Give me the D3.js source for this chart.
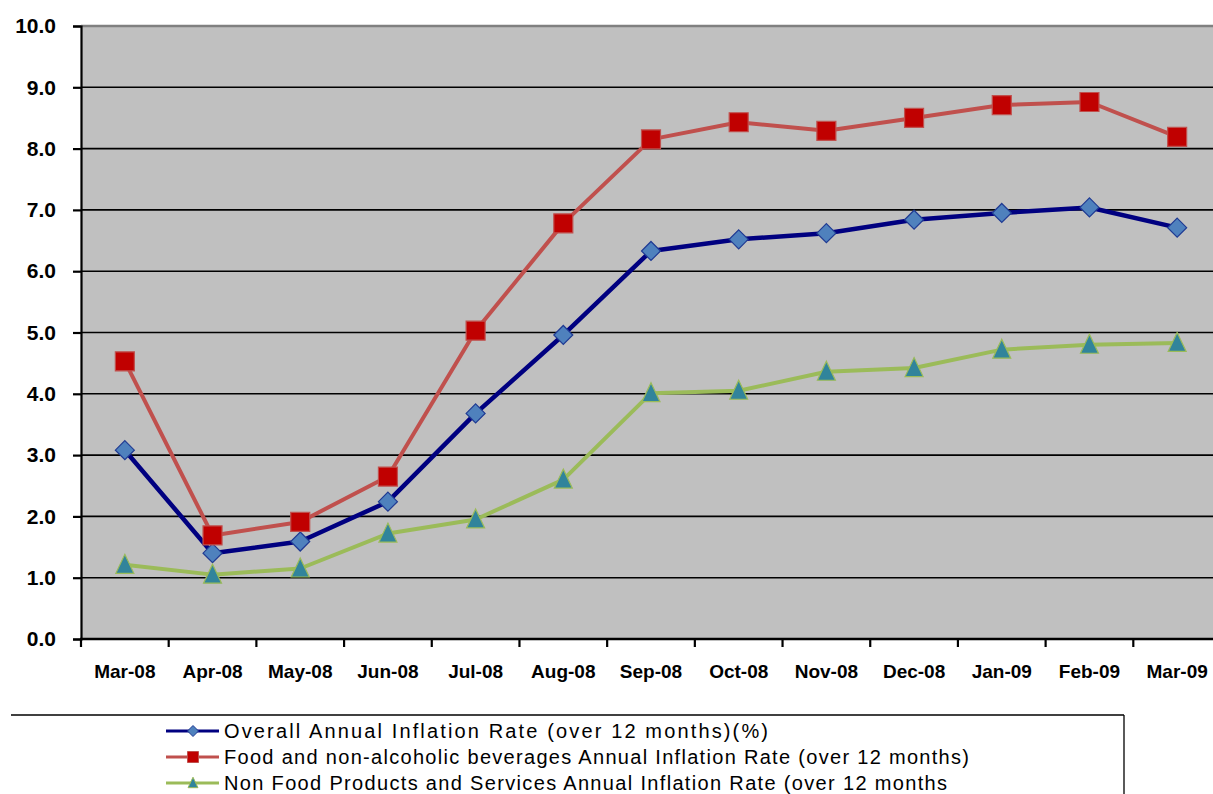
<!DOCTYPE html>
<html>
<head>
<meta charset="utf-8">
<script src="https://cdn.jsdelivr.net/npm/d3@7/dist/d3.min.js"></script>
<style>
  html, body { margin: 0; padding: 0; background: #fff; }
  svg { display: block; font-family: "Liberation Sans", Arial, sans-serif; }
</style>
</head>
<body>
<svg id="chart" width="1213" height="794"></svg>
<script>
// Monthly annual inflation rates, March 2008 to March 2009
const months = ["Mar-08", "Apr-08", "May-08", "Jun-08", "Jul-08", "Aug-08", "Sep-08",
                "Oct-08", "Nov-08", "Dec-08", "Jan-09", "Feb-09", "Mar-09"];
const overallRate = [3.08, 1.40, 1.59, 2.24, 3.68, 4.96, 6.33, 6.52, 6.62, 6.84, 6.95, 7.04, 6.71];
const foodRate    = [4.53, 1.69, 1.91, 2.65, 5.03, 6.78, 8.15, 8.43, 8.29, 8.50, 8.71, 8.76, 8.19];
const nonFoodRate = [1.21, 1.05, 1.15, 1.72, 1.95, 2.60, 4.01, 4.05, 4.36, 4.42, 4.72, 4.80, 4.83];
const yTicks = [0, 1, 2, 3, 4, 5, 6, 7, 8, 9, 10];
const seriesNames = [
  "Overall Annual Inflation Rate (over 12 months)(%)",
  "Food and non-alcoholic beverages Annual Inflation Rate (over 12 months)",
  "Non Food Products and Services Annual Inflation Rate (over 12 months"
];

const series = [
  { name: seriesNames[0], values: overallRate, line: "#000080", lineWidth: 4.5,
    marker: "diamond", fill: "#4F81BD", stroke: "#1F3A93", textEnd: 768 },
  { name: seriesNames[1], values: foodRate, line: "#C0504D", lineWidth: 4,
    marker: "square", fill: "#C00000", stroke: "#C0504D", textEnd: 969 },
  { name: seriesNames[2], values: nonFoodRate, line: "#9BBB59", lineWidth: 4,
    marker: "triangle", fill: "#31849B", stroke: "#9BBB59", textEnd: 947 }
];

const svg = d3.select("#chart");
const plot = { left: 81, top: 26, right: 1221, bottom: 639 };

const x = d3.scaleBand().domain(months).range([plot.left, plot.right]).padding(0);
const y = d3.scaleLinear().domain([0, 10]).range([plot.bottom, plot.top]);
const cx = m => x(m) + x.bandwidth() / 2;

// plot area background
svg.append("rect")
  .attr("x", plot.left).attr("y", plot.top)
  .attr("width", plot.right - plot.left).attr("height", plot.bottom - plot.top)
  .attr("fill", "#C0C0C0");

// horizontal gridlines
svg.append("g").selectAll("line")
  .data(yTicks.filter(t => t > 0 && t < 10))
  .join("line")
  .attr("x1", plot.left).attr("x2", plot.right)
  .attr("y1", d => y(d)).attr("y2", d => y(d))
  .attr("stroke", "#000").attr("stroke-width", 1.6);

// top border of plot area
svg.append("line")
  .attr("x1", plot.left).attr("x2", plot.right)
  .attr("y1", y(10)).attr("y2", y(10))
  .attr("stroke", "#808080").attr("stroke-width", 2.5);

// y axis
const yAxis = svg.append("g")
  .attr("transform", `translate(${plot.left},0)`)
  .call(d3.axisLeft(y).tickValues(yTicks).tickFormat(d3.format(".1f"))
        .tickSize(8).tickPadding(17));
yAxis.select(".domain").attr("stroke", "#000").attr("stroke-width", 2.2);
yAxis.selectAll(".tick line").attr("stroke", "#000").attr("stroke-width", 2.2);
yAxis.selectAll("text")
  .attr("font-size", 21).attr("font-weight", "bold").attr("fill", "#000")
  .attr("font-family", "Liberation Sans, Arial, sans-serif");

// x axis with labels centred in each category
const xAxis = svg.append("g")
  .attr("transform", `translate(0,${plot.bottom})`)
  .call(d3.axisBottom(x).tickSize(0).tickPadding(26));
xAxis.select(".domain").remove();
xAxis.selectAll("text")
  .attr("font-size", 19).attr("font-weight", "bold").attr("fill", "#000")
  .attr("font-family", "Liberation Sans, Arial, sans-serif");

svg.append("line")
  .attr("x1", plot.left - 1).attr("x2", plot.right)
  .attr("y1", plot.bottom).attr("y2", plot.bottom)
  .attr("stroke", "#000").attr("stroke-width", 2.6);

// tick marks on category boundaries
svg.append("g").selectAll("line")
  .data(months)
  .join("line")
  .attr("x1", d => x(d)).attr("x2", d => x(d))
  .attr("y1", plot.bottom).attr("y2", plot.bottom + 8)
  .attr("stroke", "#000").attr("stroke-width", 2.2);

// marker shapes
function markerPath(type, s) {
  if (type === "diamond") return `M0,${-s}L${s},0L0,${s}L${-s},0Z`;
  if (type === "square") return `M${-s},${-s}H${s}V${s}H${-s}Z`;
  return `M0,${-s * 1.05}L${s * 0.9},${s * 0.85}H${-s * 0.9}Z`;
}
const markerSize = { diamond: 9.5, square: 9.5, triangle: 10 };

const lineGen = d3.line()
  .x((d, i) => cx(months[i]))
  .y(d => y(d));

series.forEach(s => {
  const g = svg.append("g");
  g.append("path")
    .datum(s.values)
    .attr("d", lineGen)
    .attr("fill", "none")
    .attr("stroke", s.line)
    .attr("stroke-width", s.lineWidth)
    .attr("stroke-linejoin", "round");
  g.selectAll("path.mk")
    .data(s.values)
    .join("path")
    .attr("class", "mk")
    .attr("transform", (d, i) => `translate(${cx(months[i])},${y(d)})`)
    .attr("d", markerPath(s.marker, markerSize[s.marker]))
    .attr("fill", s.fill)
    .attr("stroke", s.stroke)
    .attr("stroke-width", 1.2);
});

// legend
const legend = svg.append("g");
legend.append("line")
  .attr("x1", 11).attr("x2", 1124).attr("y1", 715).attr("y2", 715)
  .attr("stroke", "#000").attr("stroke-width", 1.3);
legend.append("line")
  .attr("x1", 1124).attr("x2", 1124).attr("y1", 715).attr("y2", 794)
  .attr("stroke", "#000").attr("stroke-width", 1.3);

const legendRows = [731, 757, 783];
series.forEach((s, i) => {
  const ry = legendRows[i];
  legend.append("line")
    .attr("x1", 166).attr("x2", 219).attr("y1", ry).attr("y2", ry)
    .attr("stroke", s.line).attr("stroke-width", 3);
  legend.append("path")
    .attr("transform", `translate(193,${ry})`)
    .attr("d", markerPath(s.marker, 5.5))
    .attr("fill", s.fill).attr("stroke", s.stroke).attr("stroke-width", 1);
  legend.append("text")
    .attr("x", 224).attr("y", ry + 7)
    .attr("font-size", 20).attr("fill", "#000")
    .attr("textLength", s.textEnd - 224)
    .attr("lengthAdjust", "spacing")
    .text(s.name);
});
</script>
</body>
</html>
